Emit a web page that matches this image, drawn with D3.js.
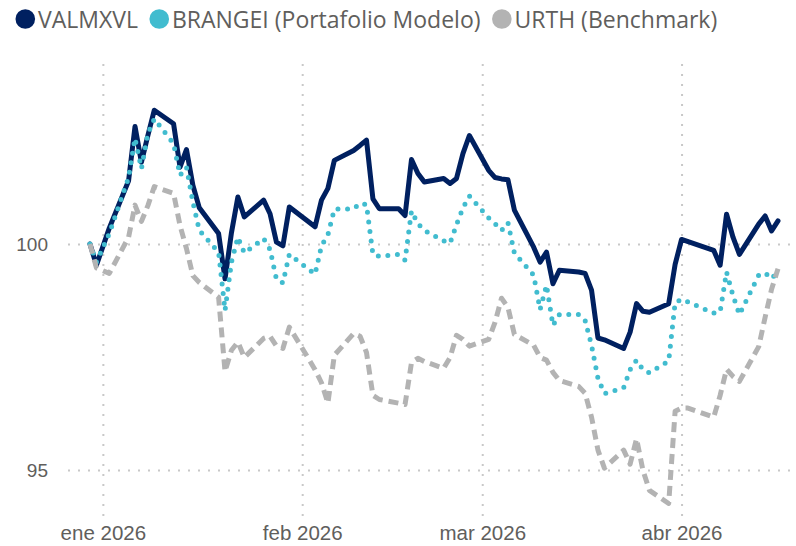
<!DOCTYPE html>
<html>
<head>
<meta charset="utf-8">
<script src="https://cdn.jsdelivr.net/npm/d3@7"></script>
<style>
  html, body { margin: 0; padding: 0; background: #ffffff; }
  svg { display: block; font-family: "Segoe UI", "Open Sans", "Noto Sans", sans-serif; }
</style>
</head>
<body>
<svg id="chart" width="796" height="546"></svg>
<script>
// Trading days shown on the chart
const dates = [
  "2025-12-30","2025-12-31","2026-01-02",
  "2026-01-05","2026-01-06","2026-01-07","2026-01-08","2026-01-09",
  "2026-01-12","2026-01-13","2026-01-14","2026-01-15","2026-01-16",
  "2026-01-19","2026-01-20","2026-01-21","2026-01-22","2026-01-23",
  "2026-01-26","2026-01-27","2026-01-28","2026-01-29","2026-01-30",
  "2026-02-02","2026-02-03","2026-02-04","2026-02-05","2026-02-06",
  "2026-02-09","2026-02-10","2026-02-11","2026-02-12","2026-02-13",
  "2026-02-16","2026-02-17","2026-02-18","2026-02-19","2026-02-20",
  "2026-02-23","2026-02-24","2026-02-25","2026-02-26","2026-02-27",
  "2026-03-02","2026-03-03","2026-03-04","2026-03-05","2026-03-06",
  "2026-03-09","2026-03-10","2026-03-11","2026-03-12","2026-03-13",
  "2026-03-16","2026-03-17","2026-03-18","2026-03-19","2026-03-20",
  "2026-03-23","2026-03-24","2026-03-25","2026-03-26","2026-03-27",
  "2026-03-30","2026-03-31","2026-04-01","2026-04-02","2026-04-03",
  "2026-04-06","2026-04-07","2026-04-08","2026-04-09","2026-04-10",
  "2026-04-13","2026-04-14","2026-04-15","2026-04-16"
];

// Rebased values (100 = start); null = market closed
const valmxvl = [
  100.0, 99.53, 100.35,
  101.4, 102.6, 101.81, 102.4, 102.96,
  102.66, 101.7, 102.09, 101.3, 100.8,
  100.23, 99.23, 100.25, 101.04, 100.6,
  100.97, 100.67, 100.04, 99.96, 100.82,
  null, 100.38, 100.97, 101.23, 101.85,
  102.07, 102.18, 102.3, 101.0, 100.78,
  100.78, 100.63, 101.87, 101.56, 101.37,
  101.45, 101.34, 101.45, 102.0, 102.4,
  101.63, 101.47, 101.44, 101.42, 100.75,
  99.93, 99.6, 99.82, 99.12, 99.42,
  99.38, 99.35, 98.98, 97.92, 97.88,
  97.69, 98.05, 98.68, 98.51, 98.49,
  98.68, 99.55, 100.1, null, null,
  99.86, 99.53, 100.66, 100.15, 99.77,
  100.44, 100.62, 100.29, 100.51
];

const brangei = [
  100.0, 99.6, 100.23,
  101.47, 102.34, 101.67, 102.44, 102.77,
  102.22, 101.52, 101.7, 100.93, 100.3,
  99.82, 98.53, 99.6, 100.15, 99.8,
  100.12, 99.88, 99.22, 99.14, 99.77,
  null, 99.33, 99.96, 100.2, 100.77,
  100.78, 100.9, 100.87, 99.77, 99.73,
  99.77, 99.64, 100.73, 100.45, 100.3,
  100.07, 100.02, 100.43, 100.8, 101.06,
  100.58, 100.45, 100.3, 100.47, 99.8,
  99.31, 98.55, 99.09, 98.2, 98.44,
  98.44, 98.31, 97.76, 97.03, 96.69,
  96.82, 97.22, 97.43, 97.22, 97.15,
  97.41, 98.7, 98.78, null, null,
  98.47, 98.5, 99.38, 98.86, 98.44,
  99.31, 99.36, 99.23, 99.4
];

const urth = [
  100.0, 99.47, 99.35,
  100.15, 100.86, 100.5, 100.85, 101.27,
  101.12, 100.41, 99.9, 99.3, 99.15,
  98.82, 97.18, 97.65, 97.83, 97.49,
  97.91, 97.96, 97.74, 97.69, 98.16,
  97.46, 97.22, 96.93, 96.48, 97.54,
  98.02, 97.96, 97.6, 96.65, 96.56,
  null, 96.45, 97.38, 97.47, 97.4,
  97.25, 97.49, 97.98, 97.89, 97.74,
  97.89, 98.27, 98.8, 98.6, 98.0,
  97.76, 97.49, 97.43, 97.16, 96.98,
  96.85, 96.7, 96.17, 95.44, 95.04,
  95.44, 95.13, 95.69, 94.99, 94.55,
  94.26, 96.3, 96.37, 96.37, null,
  96.17, 96.65, 97.23, 97.07, 96.96,
  97.73, 98.38, 99.0, 99.45
];

const seriesNames = ["VALMXVL", "BRANGEI (Portafolio Modelo)", "URTH (Benchmark)"];
const seriesColors = ["#002060", "#41BCCF", "#B3B3B3"];
const yTickValues = [95, 100];
const xTickDates = ["2026-01-01", "2026-02-01", "2026-03-01", "2026-04-01"];
const xTickLabels = ["ene 2026", "feb 2026", "mar 2026", "abr 2026"];

const svg = d3.select("#chart");
const plot = { left: 68, right: 790, top: 62, bottom: 516 };
const parse = d3.utcParse("%Y-%m-%d");
const dateObjs = dates.map(parse);

const x = d3.scaleUtc()
  .domain([parse("2025-12-30"), parse("2026-04-16")])
  .range([90, 778]);
const y = d3.scaleLinear()
  .domain([94, 104])
  .range([515.2, 63.2]);

const gridColor = "#C8C8C8";
const labelColor = "#605E5C";

// Horizontal grid + y labels
const yAxis = d3.axisLeft(y)
  .tickValues(yTickValues)
  .tickFormat(d3.format("d"))
  .tickSize(-(plot.right - plot.left))
  .tickPadding(20);
const gy = svg.append("g")
  .attr("transform", `translate(${plot.left},0)`)
  .call(yAxis);
gy.select(".domain").remove();
gy.selectAll(".tick line")
  .attr("stroke", gridColor)
  .attr("stroke-width", 2)
  .attr("stroke-dasharray", "2 8");
gy.selectAll(".tick text")
  .attr("fill", labelColor)
  .style("font-size", "19px");

// Vertical grid + month labels
const tickMap = new Map(xTickDates.map((d, i) => [+parse(d), xTickLabels[i]]));
const xAxis = d3.axisBottom(x)
  .tickValues(xTickDates.map(parse))
  .tickFormat(d => tickMap.get(+d))
  .tickSize(-(plot.bottom - plot.top))
  .tickPadding(9);
const gx = svg.append("g")
  .attr("transform", `translate(0,${plot.bottom})`)
  .call(xAxis);
gx.select(".domain").remove();
gx.selectAll(".tick line")
  .attr("stroke", gridColor)
  .attr("stroke-width", 2)
  .attr("stroke-dasharray", "2 8");
gx.selectAll(".tick text")
  .attr("fill", labelColor)
  .style("font-size", "20.5px");

// Series lines
const line = d3.line()
  .x(d => x(d.date))
  .y(d => y(d.v));

const seriesValues = [valmxvl, brangei, urth];
const styles = [
  { dash: null, cap: "round", width: 5 },
  { dash: "0 9.6", cap: "round", width: 5 },
  { dash: "10 6", cap: "butt", width: 5 }
];

seriesValues.forEach((vals, i) => {
  const pts = vals
    .map((v, j) => ({ date: dateObjs[j], v }))
    .filter(p => p.v != null);
  svg.append("path")
    .datum(pts)
    .attr("d", line)
    .attr("fill", "none")
    .attr("stroke", seriesColors[i])
    .attr("stroke-width", styles[i].width)
    .attr("stroke-linejoin", "round")
    .attr("stroke-linecap", styles[i].cap)
    .attr("stroke-dasharray", styles[i].dash);
});

// Legend
const legend = svg.append("g").attr("class", "legend");
let cx = 15.5;
seriesNames.forEach((name, i) => {
  legend.append("circle")
    .attr("cx", cx + 9.8)
    .attr("cy", 19)
    .attr("r", 9.8)
    .attr("fill", seriesColors[i]);
  const t = legend.append("text")
    .attr("x", cx + 22.5)
    .attr("y", 27.5)
    .attr("fill", labelColor)
    .style("font-size", "23px")
    .text(name);
  cx = cx + 22.5 + t.node().getComputedTextLength() + 11.5;
});
</script>
</body>
</html>
